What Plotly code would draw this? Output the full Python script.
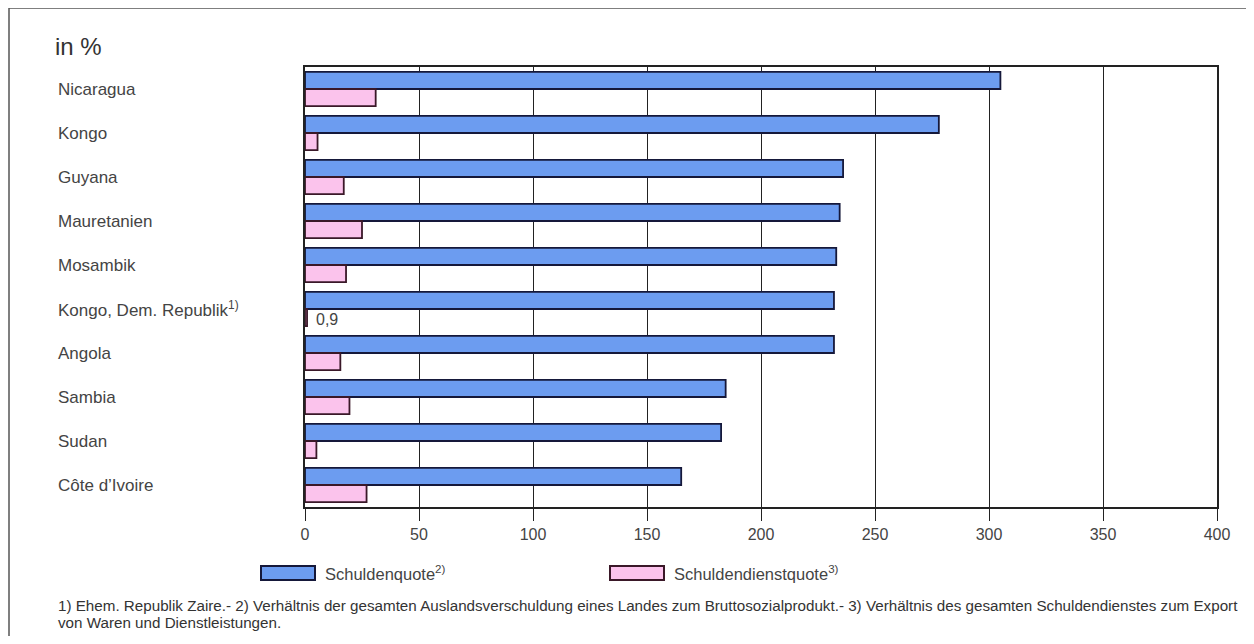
import plotly.graph_objects as go

countries = ["Nicaragua", "Kongo", "Guyana", "Mauretanien", "Mosambik",
             "Kongo, Dem. Republik<sup>1)</sup>", "Angola", "Sambia", "Sudan", "Côte d’Ivoire"]
schuldenquote = [305, 278, 236, 234.5, 233, 232, 232, 184.5, 182.5, 165]
schuldendienstquote = [31, 5.5, 17, 25, 18, 0.9, 15.5, 19.5, 5, 27]
x_ticks = [0, 50, 100, 150, 200, 250, 300, 350, 400]
legend_names = ["Schuldenquote<sup>2)</sup>", "Schuldendienstquote<sup>3)</sup>"]
footnote_lines = [
    "1) Ehem. Republik Zaire.- 2) Verhältnis der gesamten Auslandsverschuldung eines Landes zum "
    "Bruttosozialprodukt.- 3) Verhältnis des gesamten Schuldendienstes zum Export",
    "von Waren und Dienstleistungen.",
]

BLUE = "#6c9cf0"
PINK = "#fbc3ec"
EDGE_B = "#15183a"
EDGE_P = "#3a1828"
TXT = "#444444"
FONT = "Liberation Sans, Arial"

OFF = 8  # page body margin
W, H = 1254 - 2 * OFF, 644 - 2 * OFF
# plot area in window pixels: x 305..1217, y 67..507
L, R, T, B = 305 - OFF, W - (1217 - OFF), 67 - OFF, H - (507 - OFF)
pw, ph = W - L - R, H - T - B

def px(xw):
    return (xw - OFF - L) / pw

def py(yw):
    return (H - B - (yw - OFF)) / ph

fig = go.Figure()
fig.add_trace(go.Bar(y=countries, x=schuldenquote, orientation="h", name=legend_names[0],
                     marker=dict(color=BLUE, line=dict(color=EDGE_B, width=1.8)), showlegend=False))
fig.add_trace(go.Bar(y=countries, x=schuldendienstquote, orientation="h", name=legend_names[1],
                     marker=dict(color=PINK, line=dict(color=EDGE_P, width=1.8)), showlegend=False))

annotations = []
for c in countries:
    annotations.append(dict(x=px(56), xref="paper", y=c, yref="y", text=c, showarrow=False,
                            xanchor="left", yanchor="middle",
                            font=dict(family=FONT, size=17, color=TXT)))

# value label 0,9
annotations.append(dict(x=schuldendienstquote[5], y=countries[5], xref="x", yref="y", text="0,9",
                        showarrow=False, xanchor="left", yanchor="middle", xshift=7, yshift=-10,
                        font=dict(family=FONT, size=16, color=TXT)))

annotations.append(dict(x=px(53), y=py(46), xref="paper", yref="paper", text="in %", showarrow=False,
                        xanchor="left", yanchor="middle",
                        font=dict(family=FONT, size=24, color="#333333")))

# legend
shapes = []
leg = [(261, BLUE, EDGE_B, legend_names[0]), (610, PINK, EDGE_P, legend_names[1])]
for x0, col, edge, name in leg:
    shapes.append(dict(type="rect", xref="paper", yref="paper", x0=px(x0), x1=px(x0 + 54),
                       y0=py(580), y1=py(566), fillcolor=col, line=dict(color=edge, width=2)))
    annotations.append(dict(x=px(x0 + 62), y=py(573), xref="paper", yref="paper", text=name,
                            showarrow=False, xanchor="left", yanchor="middle",
                            font=dict(family=FONT, size=16.5, color=TXT)))

for line, yw in zip(footnote_lines, [605, 622]):
    annotations.append(dict(x=px(56), y=py(yw), xref="paper", yref="paper", text=line,
                            showarrow=False, xanchor="left", yanchor="middle", align="left",
                            font=dict(family=FONT, size=15.2, color="#333333")))

# outer frame (top and left edges visible)
frame = dict(color="#555555", width=1.5)
shapes.append(dict(type="line", xref="paper", yref="paper", x0=px(9), x1=px(1262), y0=py(8), y1=py(8),
                   line=frame, layer="below"))
shapes.append(dict(type="line", xref="paper", yref="paper", x0=px(9), x1=px(9), y0=py(8), y1=py(644),
                   line=frame, layer="below"))

fig.update_layout(
    width=W, height=H, margin=dict(l=L, r=R, t=T, b=B),
    paper_bgcolor="white", plot_bgcolor="white",
    barmode="group", bargap=0.22, bargroupgap=0.0,
    annotations=annotations, shapes=shapes,
    xaxis=dict(range=[0, 400], tickvals=x_ticks, ticktext=[str(v) for v in x_ticks],
               showgrid=True, gridcolor="#222222", gridwidth=1.3,
               ticks="outside", ticklen=12, tickcolor="#222222", tickwidth=1.3,
               showline=True, linecolor="#222222", linewidth=1.8, mirror=True,
               tickfont=dict(family=FONT, size=16, color=TXT),
               zeroline=False, fixedrange=True),
    yaxis=dict(autorange="reversed", showticklabels=False, showgrid=False,
               showline=True, linecolor="#222222", linewidth=1.8, mirror=True,
               ticks="", fixedrange=True),
)

fig.write_html("out.html")
